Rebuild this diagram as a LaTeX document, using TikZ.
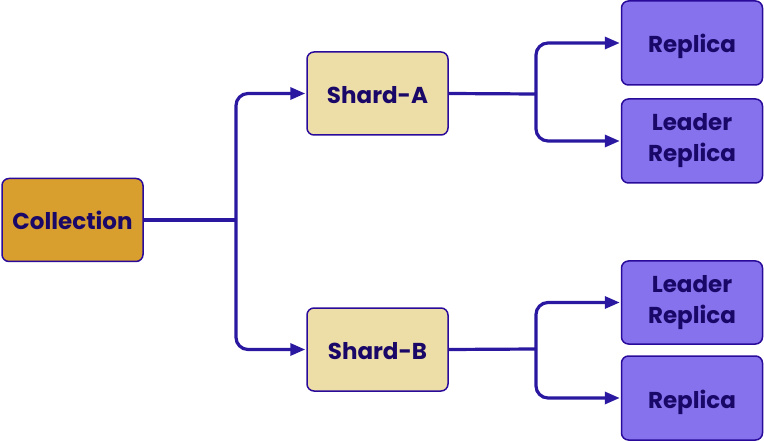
\documentclass[tikz,border=0pt]{standalone}
\usepackage{fontspec}
\setmainfont{Poppins}
\usetikzlibrary{arrows.meta}
\definecolor{collfill}{HTML}{D89E2E}
\definecolor{shardfill}{HTML}{EDDDA6}
\definecolor{repfill}{HTML}{8572EC}
\definecolor{boxline}{HTML}{2A0A9A}
\definecolor{txt}{HTML}{1A0868}
\definecolor{edgecol}{HTML}{2A18A0}
\tikzset{
  box/.style={draw=boxline, line width=1.5pt, rounded corners=7pt, minimum width=141pt, minimum height=83pt, align=center, text=txt, font=\bfseries\fontsize{23}{31}\selectfont, inner sep=0pt},
  onelinebox/.style={text depth=0pt, text height=20pt},
  collbox/.style={box, fill=collfill},
  shardbox/.style={box, fill=shardfill},
  repbox/.style={box, fill=repfill},
  link/.style={draw=edgecol, line width=3.2pt, rounded corners=12pt},
  arrowlink/.style={link, -{Triangle[length=15pt,width=12pt]}, shorten >=1pt}
}
\begin{document}
\begin{tikzpicture}[x=1pt,y=-1pt]
\useasboundingbox (0,0) rectangle (764,441);
\node[collbox, onelinebox] (coll) at (72.5,220) {Collection};
\node[shardbox, onelinebox] (sa) at (377.5,93.5) {Shard-A};
\node[shardbox, onelinebox] (sb) at (377.5,349.5) {Shard-B};
\node[repbox, onelinebox, minimum height=84pt] (r1) at (692,43) {Replica};
\node[repbox, minimum height=84pt] (l1) at (692,141) {Leader\\Replica};
\node[repbox] (l2) at (692,302.5) {Leader\\Replica};
\node[repbox, onelinebox, minimum height=84pt] (r2) at (692,398) {Replica};
\coordinate (j1) at (236,220);
\coordinate (j2) at (536,94);
\coordinate (j3) at (536,349);
\draw[link] (coll.east) -- (j1);
\draw[arrowlink] (j1) |- (sa.west);
\draw[arrowlink] (j1) |- (sb.west);
\draw[link] (sa.east) -- (j2);
\draw[arrowlink] (j2) |- (r1.west);
\draw[arrowlink] (j2) |- (l1.west);
\draw[link] (sb.east) -- (j3);
\draw[arrowlink] (j3) |- (l2.west);
\draw[arrowlink] (j3) |- (r2.west);
\end{tikzpicture}
\end{document}
